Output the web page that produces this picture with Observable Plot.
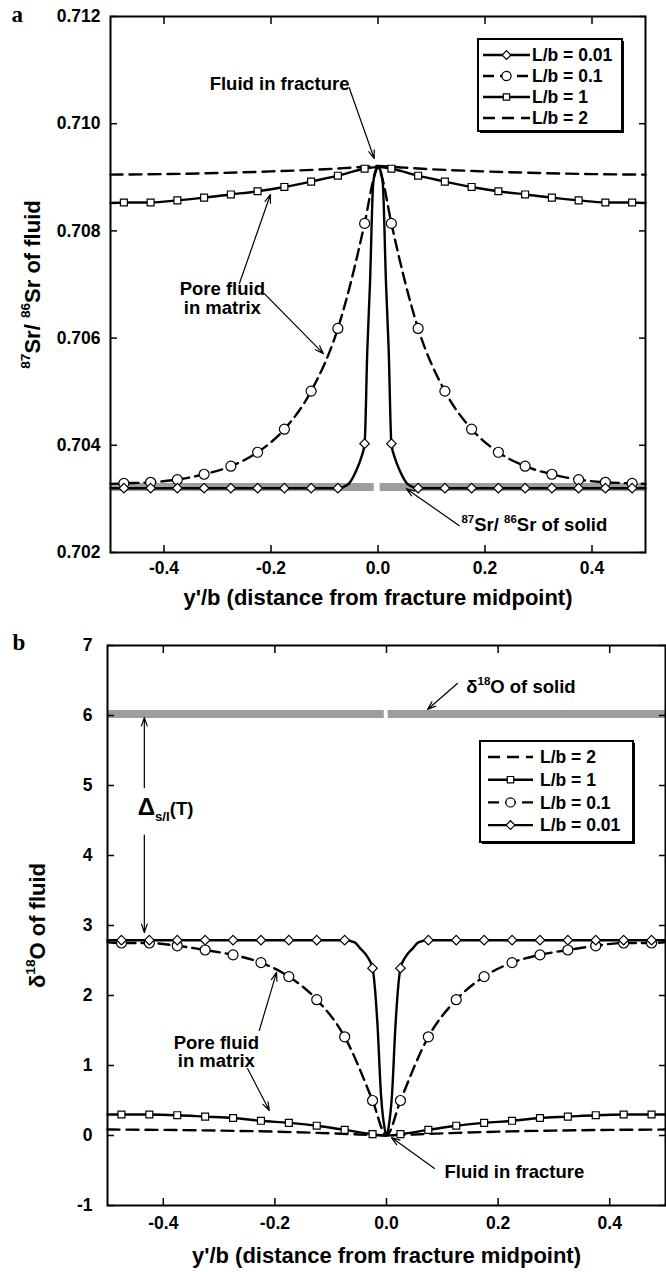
<!DOCTYPE html>
<html><head><meta charset="utf-8">
<script src="https://cdn.jsdelivr.net/npm/d3@7"></script>
<script src="https://cdn.jsdelivr.net/npm/@observablehq/plot@0.6"></script>
<style>
body{margin:0;background:#fff;}
#root{position:relative;width:666px;height:1272px;overflow:hidden;background:#fff;font-family:"Liberation Sans",Arial,sans-serif;font-weight:bold;}
#root > svg{position:absolute;left:0;}
</style></head><body><div id="root"></div>
<script>
// ---------- data ----------
const markerX = [-0.475,-0.425,-0.375,-0.325,-0.275,-0.225,-0.175,-0.125,-0.075,-0.025,0.025,0.075,0.125,0.175,0.225,0.275,0.325,0.375,0.425,0.475];
const xTicks = [-0.4,-0.2,0.0,0.2,0.4];
const srTicks = [0.702,0.704,0.706,0.708,0.710,0.712];
const oTicks = [-1,0,1,2,3,4,5,6,7];

// panel a : 87Sr/86Sr of fluid
const srLb2X = [-0.5,-0.4,-0.3,-0.2,-0.1,-0.05,0,0.05,0.1,0.2,0.3,0.4,0.5];
const srLb2Y = [0.70905,0.70906,0.70908,0.70911,0.70915,0.70918,0.70921,0.70918,0.70915,0.70911,0.70908,0.70906,0.70905];
const srLb1X = [-0.5,-0.475,-0.425,-0.375,-0.325,-0.275,-0.225,-0.175,-0.125,-0.075,-0.025,0,0.025,0.075,0.125,0.175,0.225,0.275,0.325,0.375,0.425,0.475,0.5];
const srLb1Y = [0.70852,0.70853,0.70853,0.70857,0.70862,0.70868,0.70874,0.70882,0.70892,0.70903,0.70916,0.70919,0.70916,0.70903,0.70892,0.70882,0.70874,0.70868,0.70862,0.70857,0.70853,0.70853,0.70852];
const srLb01X = [-0.5,-0.475,-0.425,-0.375,-0.325,-0.275,-0.225,-0.175,-0.125,-0.075,-0.025,-0.006,0,0.006,0.025,0.075,0.125,0.175,0.225,0.275,0.325,0.375,0.425,0.475,0.5];
const srLb01Y = [0.70328,0.70329,0.70331,0.70336,0.70346,0.70361,0.70387,0.70430,0.70501,0.70618,0.70814,0.70905,0.70919,0.70905,0.70814,0.70618,0.70501,0.70430,0.70387,0.70361,0.70346,0.70336,0.70331,0.70329,0.70328];
const srLb001X = [-0.5,-0.475,-0.425,-0.375,-0.325,-0.275,-0.225,-0.175,-0.125,-0.075,-0.065,-0.054,-0.041,-0.032,-0.025,-0.020,-0.015,-0.009,-0.004,0,0.004,0.009,0.015,0.020,0.025,0.032,0.041,0.054,0.065,0.075,0.125,0.175,0.225,0.275,0.325,0.375,0.425,0.475,0.5];
const srLb001Y = [0.7032,0.7032,0.7032,0.7032,0.7032,0.7032,0.7032,0.7032,0.7032,0.7032,0.70322,0.70329,0.70352,0.70375,0.70403,0.70577,0.70701,0.70888,0.70914,0.70919,0.70914,0.70888,0.70701,0.70577,0.70403,0.70375,0.70352,0.70329,0.70322,0.7032,0.7032,0.7032,0.7032,0.7032,0.7032,0.7032,0.7032,0.7032,0.7032];
const srSolid = 0.70322;
const srSolidGap = [-0.007, 0.004];

// panel b : d18O of fluid
const oLb2X = [-0.5,-0.4,-0.3,-0.2,-0.1,-0.05,0,0.05,0.1,0.2,0.3,0.4,0.5];
const oLb2Y = [0.085,0.08,0.07,0.055,0.03,0.015,0,0.015,0.03,0.055,0.07,0.08,0.085];
const oLb1X = [-0.5,-0.475,-0.425,-0.375,-0.325,-0.275,-0.225,-0.175,-0.125,-0.075,-0.025,0,0.025,0.075,0.125,0.175,0.225,0.275,0.325,0.375,0.425,0.475,0.5];
const oLb1Y = [0.30,0.30,0.30,0.29,0.27,0.25,0.21,0.18,0.14,0.08,0.02,0,0.02,0.08,0.14,0.18,0.21,0.25,0.27,0.29,0.30,0.30,0.30];
const oLb01X = [-0.5,-0.475,-0.425,-0.375,-0.325,-0.275,-0.225,-0.175,-0.125,-0.075,-0.025,0,0.025,0.075,0.125,0.175,0.225,0.275,0.325,0.375,0.425,0.475,0.5];
const oLb01Y = [2.76,2.75,2.75,2.71,2.65,2.58,2.47,2.27,1.94,1.41,0.50,0,0.50,1.41,1.94,2.27,2.47,2.58,2.65,2.71,2.75,2.75,2.76];
const oLb001X = [-0.5,-0.475,-0.425,-0.375,-0.325,-0.275,-0.225,-0.175,-0.125,-0.075,-0.057,-0.048,-0.034,-0.025,-0.016,-0.010,-0.004,0,0.004,0.010,0.016,0.025,0.034,0.048,0.057,0.075,0.125,0.175,0.225,0.275,0.325,0.375,0.425,0.475,0.5];
const oLb001Y = [2.79,2.79,2.79,2.79,2.79,2.79,2.79,2.79,2.79,2.79,2.76,2.68,2.55,2.39,1.56,0.60,0.13,0,0.13,0.60,1.56,2.39,2.55,2.68,2.76,2.79,2.79,2.79,2.79,2.79,2.79,2.79,2.79,2.79,2.79];
const oSolid = 6.02;
const oSolidGap = [-0.004, 0.003];

// legend labels
const legendA = ["0.01","0.1","1","2"];
const legendB = ["2","1","0.1","0.01"];

// annotations
const annoTextA = [
  {x:-0.184, y:0.71074, text:"Fluid in fracture", anchor:"middle"},
  {x:-0.291, y:0.70674, text:"Pore fluid\nin matrix", anchor:"middle"},
  {x:0.156, y:0.70252, text:"87Sr/ 86Sr of solid", anchor:"start"}
];
const annoArrowA = [
  {x1:-0.054, y1:0.710675, x2:-0.007, y2:0.70935},
  {x1:-0.259, y1:0.70702, x2:-0.201, y2:0.70868},
  {x1:-0.2125, y1:0.70683, x2:-0.102, y2:0.70571},
  {x1:0.152, y1:0.70250, x2:0.053, y2:0.70319}
];
const annoTextB = [
  {x:0.143, y:6.41, text:"δ18O of solid", anchor:"start"},
  {x:-0.446, y:4.66, text:"Δs/l(T)", anchor:"start"},
  {x:-0.305, y:1.19, text:"Pore fluid\nin matrix", anchor:"middle"},
  {x:0.104, y:-0.52, text:"Fluid in fracture", anchor:"start"}
];
const annoArrowB = [
  {x1:0.127, y1:6.457, x2:0.0735, y2:6.086},
  {x1:-0.434, y1:4.97, x2:-0.434, y2:5.97},
  {x1:-0.434, y1:4.29, x2:-0.434, y2:2.90},
  {x1:-0.228, y1:1.50, x2:-0.197, y2:2.33},
  {x1:-0.249, y1:0.957, x2:-0.21, y2:0.357},
  {x1:0.086, y1:-0.471, x2:0.009, y2:-0.029}
];

// rich text (super/subscripts)
const richMap = {
  "87Sr/ 86Sr of fluid": [["87","sup"],["Sr/ ",""],["86","sup"],["Sr of fluid",""]],
  "87Sr/ 86Sr of solid": [["87","sup"],["Sr/ ",""],["86","sup"],["Sr of solid",""]],
  "δ18O of solid": [["δ",""],["18","sup"],["O of solid",""]],
  "δ18O of fluid": [["δ",""],["18","sup"],["O of fluid",""]],
  "Δs/l(T)": [["Δ","big"],["s/l","sub"],["(T)",""]]
};

// ---------- helpers ----------
const rows = (xs, ys) => xs.map((x, i) => ({x, y: ys[i]}));
const isMarker = d => markerX.some(m => Math.abs(m - d.x) < 1e-9);
const diamond = {draw(ctx, size){ const s = Math.sqrt(size/2); ctx.moveTo(0,-s); ctx.lineTo(s,0); ctx.lineTo(0,s); ctx.lineTo(-s,0); ctx.closePath(); }};
const styles = {
  "2":    {dash:"12,7", symbol:null, r:0},
  "1":    {dash:null, symbol:"square", r:3.9},
  "0.1":  {dash:"11,6", symbol:"circle", r:5},
  "0.01": {dash:null, symbol:diamond, r:3.8}
};
const fmtX = d => (d < 0 ? "-" : "") + Math.abs(d).toFixed(1);
const FONT = "'Liberation Sans', Arial, Helvetica, sans-serif";

function richify(container) {
  const NS = "http://www.w3.org/2000/svg";
  container.querySelectorAll("text").forEach(t => {
    const segs = richMap[t.textContent];
    if (!segs) return;
    const base = parseFloat(getComputedStyle(t).fontSize) || 18;
    const dy0 = t.getAttribute("dy") || "0";
    const d0 = dy0.endsWith("em") ? parseFloat(dy0) * base : (parseFloat(dy0) || 0);
    t.removeAttribute("dy");
    t.textContent = "";
    let shift = 0, first = true;
    for (const [s, kind] of segs) {
      const ts = document.createElementNS(NS, "tspan");
      let target = 0, fs = base;
      if (kind === "sup") { target = -0.42 * base; fs = 0.62 * base; }
      else if (kind === "sub") { target = 0.32 * base; fs = 0.72 * base; }
      else if (kind === "big") { fs = 1.3 * base; }
      ts.setAttribute("font-size", fs);
      ts.setAttribute("dy", (target - shift) + (first ? d0 : 0));
      shift = target; first = false;
      ts.textContent = s;
      t.appendChild(ts);
    }
  });
}

function panel(cfg) {
  const marks = [];
  const band = [{x1:-0.5, x2:cfg.gap[0], y:cfg.solid},{x1:cfg.gap[1], x2:0.5, y:cfg.solid}];
  marks.push(Plot.ruleY(band, {y:"y", x1:"x1", x2:"x2", stroke:"#9d9d9d", strokeWidth:8}));
  for (const s of cfg.series) {
    const st = styles[s.key];
    marks.push(Plot.line(s.data, {x:"x", y:"y", stroke:"black", strokeWidth:2.4, strokeDasharray: st.dash || undefined, curve:"monotone-x"}));
  }
  for (const s of cfg.series) {
    const st = styles[s.key];
    if (!st.symbol) continue;
    marks.push(Plot.dot(s.data.filter(isMarker), {x:"x", y:"y", symbol: st.symbol, r: st.r, fill:"white", stroke:"black", strokeWidth:1.2}));
  }
  // inward ticks on all four sides
  marks.push(Plot.axisX(xTicks, {anchor:"bottom", tickSize:7, dy:-7, text:null, label:null, strokeWidth:1.5}));
  marks.push(Plot.axisX(xTicks, {anchor:"top", tickSize:7, dy:7, text:null, label:null, strokeWidth:1.5}));
  marks.push(Plot.axisY(cfg.yTicks, {anchor:"left", tickSize:7, dx:7, text:null, label:null, strokeWidth:1.5}));
  marks.push(Plot.axisY(cfg.yTicks, {anchor:"right", tickSize:7, dx:-7, text:null, label:null, strokeWidth:1.5}));
  // tick labels
  marks.push(Plot.axisX(xTicks, {anchor:"bottom", tickSize:0, tickPadding:cfg.xPad, tickFormat:fmtX, fontSize:17.5, fontWeight:"bold", label:null}));
  marks.push(Plot.axisY(cfg.yTicks, {anchor:"left", tickSize:0, tickPadding:cfg.yPad, tickFormat:cfg.yFmt, fontSize:17.5, fontWeight:"bold", label:null}));
  marks.push(Plot.frame({stroke:"black", strokeWidth:2}));
  // axis titles
  marks.push(Plot.text(["y'/b (distance from fracture midpoint)"], {frameAnchor:"bottom", textAnchor:"middle", lineAnchor:"middle", dy:cfg.xTitleDy, fontSize:22, fontWeight:"bold"}));
  marks.push(Plot.text([cfg.yTitle], {frameAnchor:"left", textAnchor:"middle", lineAnchor:"middle", rotate:-90, dx:cfg.yTitleDx, fontSize:22, fontWeight:"bold"}));
  marks.push(Plot.text([cfg.letter], {frameAnchor:"top-left", textAnchor:"start", lineAnchor:"middle", dx:cfg.letterDx, dy:cfg.letterDy, fontSize:23, fontWeight:"bold", fontFamily:"'Liberation Serif', 'Times New Roman', serif"}));
  // annotations
  marks.push(Plot.arrow(cfg.arrows, {x1:"x1", y1:"y1", x2:"x2", y2:"y2", stroke:"black", strokeWidth:1.2, headLength:11, headAngle:38}));
  marks.push(Plot.text(cfg.texts.filter(d => d.anchor === "middle"), {x:"x", y:"y", text:"text", textAnchor:"middle", lineAnchor:"middle", fontSize:18.5, fontWeight:"bold", lineHeight:1.0}));
  marks.push(Plot.text(cfg.texts.filter(d => d.anchor === "start"), {x:"x", y:"y", text:"text", textAnchor:"start", lineAnchor:"middle", fontSize:18.5, fontWeight:"bold"}));
  const svg = Plot.plot({
    width: 666, height: cfg.height,
    marginLeft: cfg.ml, marginRight: cfg.mr, marginTop: cfg.mt, marginBottom: cfg.mb,
    x: {domain:[-0.5,0.5]},
    y: {domain: cfg.yDomain},
    style: {fontFamily: FONT, fontWeight:"bold", color:"black", background:"transparent", overflow:"visible"},
    marks
  });
  svg.style.top = cfg.top + "px";
  return svg;
}

function legend(root, box, keys) {
  const svg = d3.select(root).append("svg")
    .style("position","absolute").style("left", box.left + "px").style("top", box.top + "px")
    .attr("width", box.w + 3).attr("height", box.h + 3)
    .attr("font-family", FONT).attr("font-weight","bold");
  svg.append("rect").attr("x", 3).attr("y", 3).attr("width", box.w - 2).attr("height", box.h - 2).attr("fill", "black");
  svg.append("rect").attr("x", 1).attr("y", 1).attr("width", box.w - 2).attr("height", box.h - 2)
    .attr("fill", "white").attr("stroke", "black").attr("stroke-width", 2);
  keys.forEach((k, i) => {
    const st = styles[k];
    const y = box.row0 + i * box.step;
    svg.append("line").attr("x1", box.s0).attr("x2", box.s1).attr("y1", y).attr("y2", y)
      .attr("stroke", "black").attr("stroke-width", 2.4).attr("stroke-dasharray", st.dash);
    if (st.symbol) {
      const sym = st.symbol === "square" ? d3.symbolSquare : st.symbol === "circle" ? d3.symbolCircle : st.symbol;
      svg.append("path").attr("d", d3.symbol(sym, Math.PI * st.r * st.r * 0.85)())
        .attr("transform", `translate(${(box.s0 + box.s1) / 2},${y})`)
        .attr("fill", "white").attr("stroke", "black").attr("stroke-width", 1.2);
    }
    svg.append("text").attr("x", box.tx).attr("y", y).attr("dy", "0.36em")
      .attr("font-size", 17.5).text("L/b = " + k);
  });
}

// ---------- build ----------
const root = document.getElementById("root");
root.appendChild(panel({
  top: 0, height: 625, ml: 110, mr: 21, mt: 16, mb: 73,
  yDomain: [0.702, 0.712], yTicks: srTicks, yFmt: d => d.toFixed(3),
  xPad: 9, yPad: 10, xTitleDy: 45, yTitle: "87Sr/ 86Sr of fluid", yTitleDx: -78,
  letter: "a", letterDx: -99, letterDy: -1.5,
  solid: srSolid, gap: srSolidGap,
  series: [
    {key:"2", data: rows(srLb2X, srLb2Y)},
    {key:"1", data: rows(srLb1X, srLb1Y)},
    {key:"0.1", data: rows(srLb01X, srLb01Y)},
    {key:"0.01", data: rows(srLb001X, srLb001Y)}
  ],
  arrows: annoArrowA, texts: annoTextA
}));
root.appendChild(panel({
  top: 630, height: 642, ml: 107, mr: 1, mt: 15, mb: 67,
  yDomain: [-1, 7], yTicks: oTicks, yFmt: d => (d < 0 ? "-" : "") + Math.abs(d),
  xPad: 11, yPad: 15, xTitleDy: 50, yTitle: "δ18O of fluid", yTitleDx: -70,
  letter: "b", letterDx: -95, letterDy: -2.5,
  solid: oSolid, gap: oSolidGap,
  series: [
    {key:"2", data: rows(oLb2X, oLb2Y)},
    {key:"1", data: rows(oLb1X, oLb1Y)},
    {key:"0.1", data: rows(oLb01X, oLb01Y)},
    {key:"0.01", data: rows(oLb001X, oLb001Y)}
  ],
  arrows: annoArrowB, texts: annoTextB
}));
legend(root, {left:477, top:38, w:146, h:94, row0:17, step:21, s0:6, s1:53, tx:55}, legendA);
legend(root, {left:479, top:740, w:155, h:103, row0:17, step:22.7, s0:9, s1:54, tx:61}, legendB);
richify(root);
</script></body></html>
